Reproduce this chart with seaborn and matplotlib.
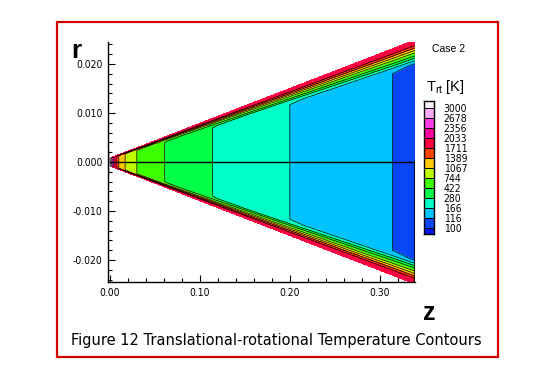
import numpy as np
import matplotlib
matplotlib.use('Agg')
import matplotlib.pyplot as plt
from matplotlib import font_manager as fm
from matplotlib.colors import ListedColormap
from matplotlib.patches import Rectangle
from matplotlib.ticker import MultipleLocator, FormatStrFormatter
import seaborn as sns

# contour levels listed in the legend (K)
levels = [100, 116, 166, 280, 422, 744, 1067, 1389, 1711, 2033, 2356, 2678, 3000]
level_labels = ['100', '116', '166', '280', '422', '744', '1067', '1389',
                '1711', '2033', '2356', '2678', '3000']
# flood colours, from below 100 K up to above 3000 K
band_colors = ['#0014F0', '#0A46F5', '#00C3FF', '#00FFC8', '#00FF46', '#3CFF00',
               '#BEFF00', '#FFC800', '#FF4600', '#FF0040', '#FF00A0', '#FF3CE6',
               '#FFAAF5', '#FFF0FF']

# axial stations (m), local wall radius (m), temperature on the axis and at the wall (K)
z_sta = [0.0, 0.0025, 0.0045, 0.007, 0.010, 0.017, 0.030, 0.061, 0.114, 0.200, 0.314, 0.339]
r_wall = [0.0008, 0.0010, 0.0011, 0.0013, 0.0015, 0.0020, 0.0029, 0.0051, 0.0089,
          0.0150, 0.0231, 0.0249]
T_core = [3100, 2356, 2033, 1711, 1389, 1067, 744, 422, 280, 166, 116, 106]
T_wall = [3100, 1950, 1950, 1950, 1950, 1950, 1950, 1950, 1950, 1950, 1950, 1950]

# radial stations as a fraction of the wall radius, and share of the wall temperature there
eta = [0.0, 0.78, 0.805, 0.83, 0.85, 0.87, 0.895, 0.915, 0.935, 0.955, 1.0]
blend = [0.0, 0.0, 0.004, 0.03, 0.092, 0.17, 0.345, 0.52, 0.695, 0.87, 1.0]

# nose of the body
nose_z = -0.0015
nose_r = [-0.0025, 0.0025]

# -------------------------------------------------------
# build the field on the station grid (both halves)
# -------------------------------------------------------
eta_full = np.concatenate([-np.array(eta[::-1]), np.array(eta[1:])])
blend_full = np.concatenate([np.array(blend[::-1]), np.array(blend[1:])])
z_arr = np.array(z_sta)
Z = np.repeat(z_arr[:, None], len(eta_full), axis=1)
R = eta_full[None, :] * np.array(r_wall)[:, None]
Tc = np.array(T_core, dtype=float)[:, None]
Tw = np.array(T_wall, dtype=float)[:, None]
T = Tc + blend_full[None, :] * (Tw - Tc)

sns.set_style('white')
plt.rcParams['font.family'] = ['Liberation Sans', 'DejaVu Sans']
plt.rcParams['mathtext.default'] = 'regular'
plt.rcParams['text.color'] = 'black'
plt.rcParams['xtick.color'] = 'black'
plt.rcParams['ytick.color'] = 'black'

# pick a narrow face for the numbers if one is installed
fonts = fm.fontManager.ttflist
narrow_kw = {'family': 'Liberation Sans'}
if any(f.name == 'Liberation Sans Narrow' for f in fonts):
    narrow_kw = {'family': 'Liberation Sans Narrow'}
elif any(f.name == 'DejaVu Sans' and f.stretch == 'condensed' for f in fonts):
    narrow_kw = {'family': 'DejaVu Sans', 'stretch': 'condensed'}

fig = plt.figure(figsize=(5.6, 3.76), dpi=100)
ax = fig.add_axes([108 / 560, 94 / 376, 307 / 560, 240 / 376])

fill_levels = [0] + levels + [10000]
ax.contourf(Z, R, T, levels=fill_levels, colors=band_colors)
ax.contour(Z, R, T, levels=levels, colors='k', linewidths=0.5)

# symmetry axis, exit plane and nose
ax.plot([z_sta[0], z_sta[-1]], [0, 0], color='k', lw=1)
ax.plot([z_sta[-1], z_sta[-1]], [0, -r_wall[-1]], color='k', lw=2)
ax.plot([nose_z, nose_z], nose_r, color='k', lw=1)

ax.set_xlim(-0.002, 0.339)
ax.set_ylim(-0.0245, 0.0245)
sns.despine(ax=ax)
for s in ['left', 'bottom']:
    ax.spines[s].set_color('k')
    ax.spines[s].set_linewidth(1)

ax.xaxis.set_major_locator(MultipleLocator(0.1))
ax.xaxis.set_minor_locator(MultipleLocator(0.02))
ax.yaxis.set_major_locator(MultipleLocator(0.01))
ax.yaxis.set_minor_locator(MultipleLocator(0.002))
ax.xaxis.set_major_formatter(FormatStrFormatter('%.2f'))
ax.yaxis.set_major_formatter(FormatStrFormatter('%.3f'))
ax.tick_params(which='major', direction='in', length=5, width=0.8, color='k',
               labelsize=7.5, labelcolor='k', pad=4, left=True, bottom=True)
ax.tick_params(which='minor', direction='in', length=3, width=0.8, color='k',
               left=True, bottom=True)
for lab in ax.get_xticklabels() + ax.get_yticklabels():
    lab.set_family(narrow_kw['family'])
    if 'stretch' in narrow_kw:
        lab.set_stretch(narrow_kw['stretch'])

# axis letters
fig.text(71 / 560, 1 - 58 / 376, 'r', fontsize=19, fontweight='bold', ha='left', va='baseline')
fig.text(423 / 560, 1 - 320 / 376, 'z', fontsize=18, fontweight='bold', ha='left', va='baseline')

# legend
cax = fig.add_axes([424 / 560, 142 / 376, 10 / 560, 133 / 376])
edges = np.array([-0.65] + list(range(13)) + [12.65])
cax.pcolormesh([0, 1], edges, np.arange(14)[:, None], cmap=ListedColormap(band_colors),
               vmin=-0.5, vmax=13.5, edgecolors='k', linewidth=0.4)
cax.set_xlim(0, 1)
cax.set_ylim(edges[0], edges[-1])
cax.set_xticks([])
cax.yaxis.tick_right()
cax.set_yticks(range(13))
cax.set_yticklabels(level_labels, fontsize=7.5, color='k', **narrow_kw)
cax.tick_params(axis='y', length=0, pad=7)
for s in cax.spines.values():
    s.set_visible(True)
    s.set_color('k')
    s.set_linewidth(1)

fig.text(449 / 560, 1 - 49 / 376, 'Case 2', fontsize=7.5, ha='center', va='center')
fig.text(426 / 560, 1 - 91 / 376, r'T$_{rt}$ [K]', fontsize=10.5, ha='left', va='baseline')

# caption and frame
fig.text(276 / 560, 1 - 341 / 376, 'Figure 12 Translational-rotational Temperature Contours',
         fontsize=10.5, family='DejaVu Sans', ha='center', va='center')
fig.patches.append(Rectangle((57 / 560, 19 / 376), 441 / 560, 335 / 376,
                             transform=fig.transFigure, fill=False,
                             edgecolor='#D40000', lw=1.6))

plt.savefig('out.png', dpi=100)
